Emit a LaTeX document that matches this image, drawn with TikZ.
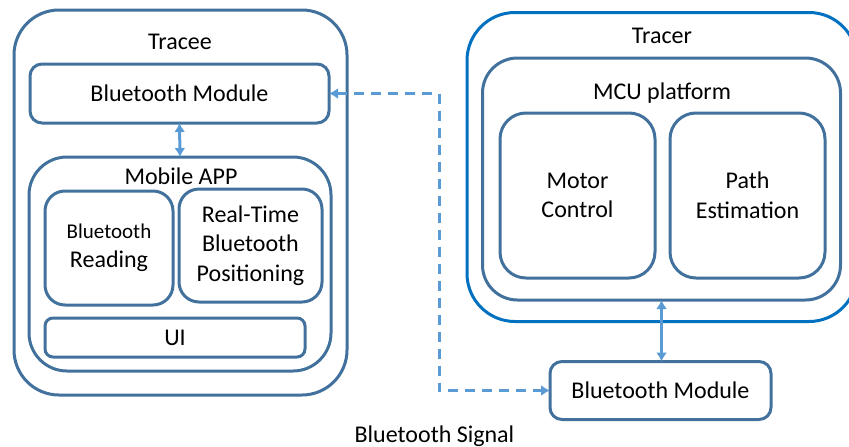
\documentclass[tikz,border=0pt]{standalone}
\usepackage{fontspec}
\setmainfont{Carlito}
\usetikzlibrary{arrows.meta, positioning, calc}
\definecolor{jsteel}{HTML}{41719C}
\definecolor{jblue}{HTML}{0070C0}
\definecolor{jsky}{HTML}{5B9BD5}
\tikzset{
blk/.style = {%
    draw=jsteel, line width=3pt, rounded corners=#1,
    inner sep=0pt, outer sep=0pt, align=center},
    blk/.default = 12pt % corner radius of the box
}
\tikzset{
sig/.style = {%
    draw=jsky, line width=3pt, dash pattern=on 10pt off 7pt,
    {Latex[length=9pt,width=11pt]}-{Latex[length=9pt,width=11pt]}}
}
\begin{document}
\begin{tikzpicture}[%
        x=1pt, y=1pt,
        font=\fontsize{24}{29.5}\selectfont,
        every edge/.style = {draw=jsky, line width=3pt,
            {Latex[length=9pt,width=11pt]}-{Latex[length=9pt,width=11pt]}}
    ]
        % Fix the page to the reference size
        \useasboundingbox (0,0) rectangle (849,-447);

        % Tracee side (left)
        \node[blk=45pt, minimum width=333pt, minimum height=385pt] at (180.5,-202.5) (tracee) {};
        \node[anchor=base] at (180,-49) (traceeT) {Tracee};
        \node[blk, minimum width=299pt, minimum height=59pt] at (179.5,-93.5) (btL) {Bluetooth Module};
        \node[blk=38pt, minimum width=302pt, minimum height=214pt] at (180,-264) (app) {};
        \node[anchor=base] at (181,-184) (appT) {Mobile APP};
        \node[blk=20pt, minimum width=128pt, minimum height=114pt] at (109,-248) (btRead)
            {{\fontsize{21}{26}\selectfont Bluetooth}\\Reading};
        \node[blk=20pt, minimum width=143pt, minimum height=113pt] at (250.5,-245.5) (rtPos)
            {Real-Time\\Bluetooth\\Positioning};
        \node[blk=8pt, minimum width=260pt, minimum height=39pt] at (175,-337.5) (ui) {UI};

        % Tracer side (right)
        \node[blk=48pt, draw=jblue, minimum width=390pt, minimum height=309pt] at (662,-167) (tracer) {};
        \node[anchor=base] at (662,-43) (tracerT) {Tracer};
        \node[blk=35pt, minimum width=358pt, minimum height=242pt] at (661.5,-179) (mcu) {};
        \node[anchor=base] at (662,-99) (mcuT) {MCU platform};
        \node[blk=26pt, minimum width=155pt, minimum height=165pt] at (577.5,-195.5) (motor) {Motor\\Control};
        \node[blk=26pt, minimum width=155pt, minimum height=165pt] at (747.5,-195.5) (path) {Path\\Estimation};
        \node[blk, minimum width=221pt, minimum height=58pt] at (660.5,-390.5) (btR) {Bluetooth Module};

        % Links inside each side
        \draw (btL.south) edge (app.north);
        \draw (mcu.south) edge (mcu.south |- btR.north);

        % Bluetooth signal between the two modules
        \coordinate (sigTop) at (439,-93.5);
        \coordinate (sigBot) at (439,-390.5);
        \draw[sig] (btL.east) -- (sigTop) -- (sigBot) -- (btR.west);
        \node[anchor=base] at (434.5,-442) (sigT) {Bluetooth Signal};

    \end{tikzpicture}
\end{document}
